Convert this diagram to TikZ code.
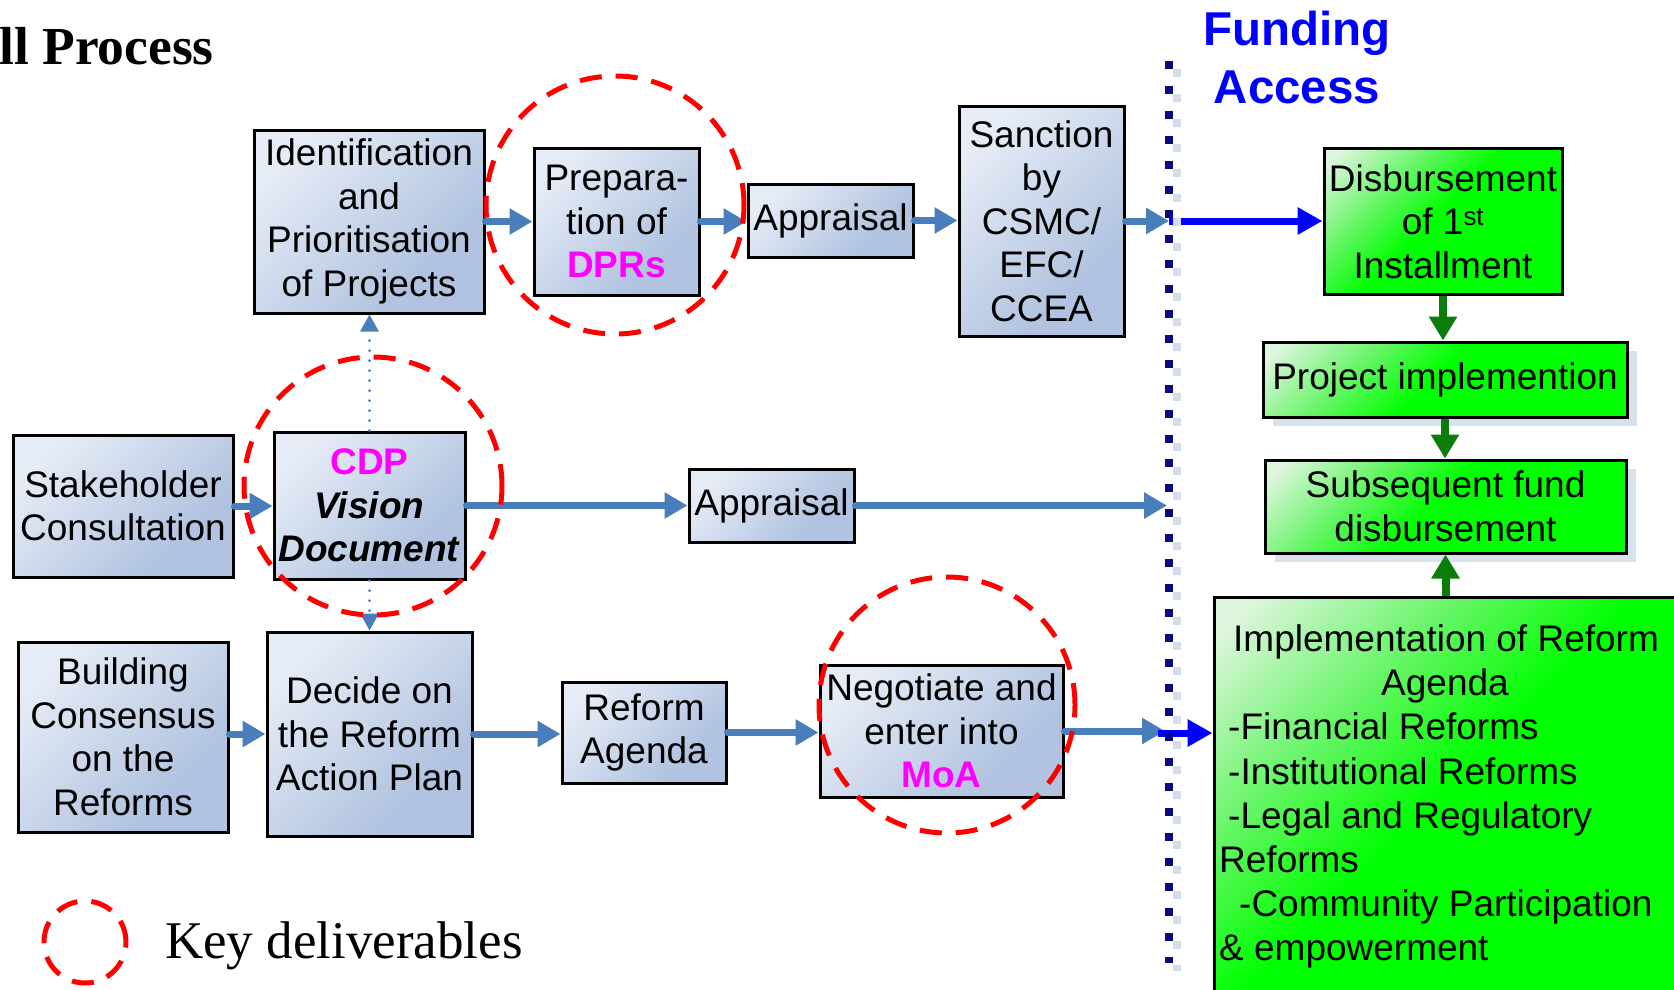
\documentclass[tikz,border=0pt]{standalone}
\usepackage{fontspec}
\usetikzlibrary{arrows.meta,shadows}
\newfontfamily\arialf{Liberation Sans}
\newfontfamily\timesf{Liberation Serif}
\definecolor{boxlight}{HTML}{E6ECF6}
\definecolor{boxdark}{HTML}{B1C3E0}
\definecolor{glight}{HTML}{DDF5DD}
\definecolor{gmid}{HTML}{66F566}
\definecolor{pgreen}{HTML}{00FF00}
\definecolor{flowblue}{HTML}{4A7EBB}
\definecolor{brightblue}{HTML}{0000FF}
\definecolor{darkgreen}{HTML}{0A7D0A}
\definecolor{navyline}{HTML}{0A0A80}
\definecolor{lineshadow}{HTML}{D5DDEA}
\definecolor{boxshadow}{HTML}{D9E1EC}
\definecolor{pmagenta}{HTML}{FF00FF}
\definecolor{keyred}{HTML}{FF0000}
\pgfdeclarehorizontalshading{blueshade}{100bp}{color(0bp)=(boxlight); color(25bp)=(boxlight); color(68bp)=(boxdark); color(100bp)=(boxdark)}
\pgfdeclarehorizontalshading{greenshade}{100bp}{color(0bp)=(glight); color(18bp)=(glight); color(34bp)=(gmid); color(48bp)=(pgreen); color(100bp)=(pgreen)}
\newcommand\bxfont{\arialf\fontsize{37}{43.5}\selectfont}
\tikzset{
  bbox/.style={draw=black, line width=3pt, shade, shading=blueshade, shading angle=-45, inner sep=0pt, align=center, font=\bxfont},
  gbox/.style={draw=black, line width=3pt, shade, shading=greenshade, shading angle=-45, inner sep=0pt, align=center, font=\bxfont},
  gshadow/.style={general shadow={fill=boxshadow, shadow xshift=10pt, shadow yshift=-9pt}},
  flow/.style={draw=flowblue, line width=7pt, line cap=round, -{Triangle[length=23pt,width=25pt]}},
  bflow/.style={draw=brightblue, line width=7pt, -{Triangle[length=25pt,width=26pt]}},
  gflow/.style={draw=darkgreen, line width=8pt, -{Triangle[length=24pt,width=27pt]}},
  dotflow/.style={draw=flowblue, line width=3pt, line cap=round, dash pattern=on 0pt off 10pt, -{Triangle[length=17pt,width=18pt]}},
  keyring/.style={draw=keyred, line width=5pt, dash pattern=on 22pt off 14pt},
  impltext/.style={anchor=base west, inner sep=0pt, font=\bxfont},
}
\begin{document}
\begin{tikzpicture}[x=1pt,y=-1pt]
\useasboundingbox (0,0) rectangle (1674,989);
\clip (0,0) rectangle (1674,989);

% title
\node[anchor=base west, inner sep=0pt, font=\timesf\bfseries\fontsize{53.5}{60}\selectfont] (title) at (-1,64) {ll Process};
\node[anchor=base, inner sep=0pt, text=brightblue, font=\arialf\bfseries\fontsize{47.5}{56}\selectfont] (fund) at (1297,45) {Funding};
\node[anchor=base, inner sep=0pt, text=brightblue, font=\arialf\bfseries\fontsize{47.5}{56}\selectfont] (acc) at (1297,103) {Access};

% funding line
\coordinate (ftop) at (1169,61);
\coordinate (fbot) at (1169,963);
\coordinate (f1) at (1169,221);
\coordinate (f2) at (1167,505);
\coordinate (f3) at (1165,732);
\coordinate (f3b) at (1158,733);

% boxes
\node[bbox, minimum width=230pt, minimum height=183pt] (ident) at (369,221.5) {Identification\\and\\Prioritisation\\of Projects};
\node[bbox, minimum width=165pt, minimum height=147pt] (prep) at (616.5,221.5) {Prepara-\\tion of\\\textbf{\color{pmagenta}DPRs}};
\node[bbox, minimum width=165pt, minimum height=73pt] (appr1) at (830.5,220.5) {Appraisal};
\node[bbox, minimum width=165pt, minimum height=230pt] (sanc) at (1041.5,221) {Sanction\\by\\CSMC/\\EFC/\\CCEA};
\node[gbox, minimum width=238pt, minimum height=146pt] (disb) at (1443,221.5) {Disbursement\\of 1\textsuperscript{st}\\Installment};
\node[gbox, gshadow, minimum width=364pt, minimum height=75pt] (proj) at (1445,379.5) {Project implemention};
\node[gbox, gshadow, minimum width=361pt, minimum height=93pt] (subs) at (1445.5,506.5) {Subsequent fund\\disbursement};
\node[gbox, minimum width=486pt, minimum height=413pt] (impl) at (1457,803.5) {};
\node[bbox, minimum width=220pt, minimum height=142pt] (stake) at (123,506) {Stakeholder\\Consultation};
\node[bbox, minimum width=191pt, minimum height=147pt] (cdp) at (369.5,505.5) {\textbf{\color{pmagenta}CDP}\\\textbf{\itshape Vision}\\\textbf{\itshape Document}};
\node[bbox, minimum width=165pt, minimum height=73pt] (appr2) at (771.5,505.5) {Appraisal};
\node[bbox, minimum width=210pt, minimum height=190pt] (build) at (123,737) {Building\\Consensus\\on the\\Reforms};
\node[bbox, minimum width=205pt, minimum height=204pt] (decide) at (369.5,734) {Decide on\\the Reform\\Action Plan};
\node[bbox, minimum width=164pt, minimum height=101pt] (reform) at (644,732.5) {Reform\\Agenda};
\node[bbox, minimum width=243pt, minimum height=132pt] (nego) at (941.5,731) {Negotiate and\\enter into\\\textbf{\color{pmagenta}MoA}};

% implementation text
\node[impltext] (i1) at (1233,651) {Implementation of Reform};
\node[impltext] (i2) at (1381,695) {Agenda};
\node[impltext] (i3) at (1228,739) {-Financial Reforms};
\node[impltext] (i4) at (1228,784) {-Institutional Reforms};
\node[impltext] (i5) at (1228,828) {-Legal and Regulatory};
\node[impltext] (i6) at (1219,872) {Reforms};
\node[impltext] (i7) at (1239,916) {-Community Participation};
\node[impltext] (i8) at (1219,960) {\& empowerment};

% arrows
\draw[flow] (ident.east) -- (prep.west);
\draw[flow] (prep.east) -- (prep.east -| appr1.west);
\draw[flow] (appr1.east) -- (appr1.east -| sanc.west);
\draw[flow] (sanc.east) -- (sanc.east -| f1);
\draw[bflow] (f1) -- (f1 -| disb.west);
\draw[flow] (stake.east) -- (stake.east -| cdp.west);
\draw[flow] (cdp.east) -- (cdp.east -| appr2.west);
\draw[flow] (appr2.east) -- (appr2.east -| f2);
\draw[flow] (build.east |- decide.west) -- (decide.west);
\draw[flow] (decide.east) -- (decide.east -| reform.west);
\draw[flow] (reform.east) -- (reform.east -| nego.west);
\draw[flow] (nego.east) -- (nego.east -| f3);
\draw[bflow] (f3b) -- (f3b -| impl.west);
\draw[gflow] (disb.south) -- (disb.south |- proj.north);
\draw[gflow] (proj.south) -- (proj.south |- subs.north);
\draw[gflow] (subs.south |- impl.north) -- (subs.south);
\draw[dotflow] (cdp.north) -- (cdp.north |- ident.south);
\draw[dotflow] (cdp.south) -- (cdp.south |- decide.north);

% funding divider
\draw[lineshadow, line width=8.5pt, dash pattern=on 8pt off 16.9pt] ([shift={(8,8)}]ftop) -- ([shift={(8,8)}]fbot);
\draw[navyline, line width=8.5pt, dash pattern=on 8pt off 16.9pt] (ftop) -- (fbot);

% key deliverables
\draw[keyring] (615,205) circle[radius=129pt];
\draw[keyring] (373,486) circle[radius=129pt];
\draw[keyring] (947,705) circle[radius=128pt];
\draw[keyring] (85,942) circle[radius=41pt];
\node[anchor=base west, inner sep=0pt, font=\timesf\fontsize{53}{60}\selectfont] (key) at (165,958) {Key deliverables};
\end{tikzpicture}
\end{document}
